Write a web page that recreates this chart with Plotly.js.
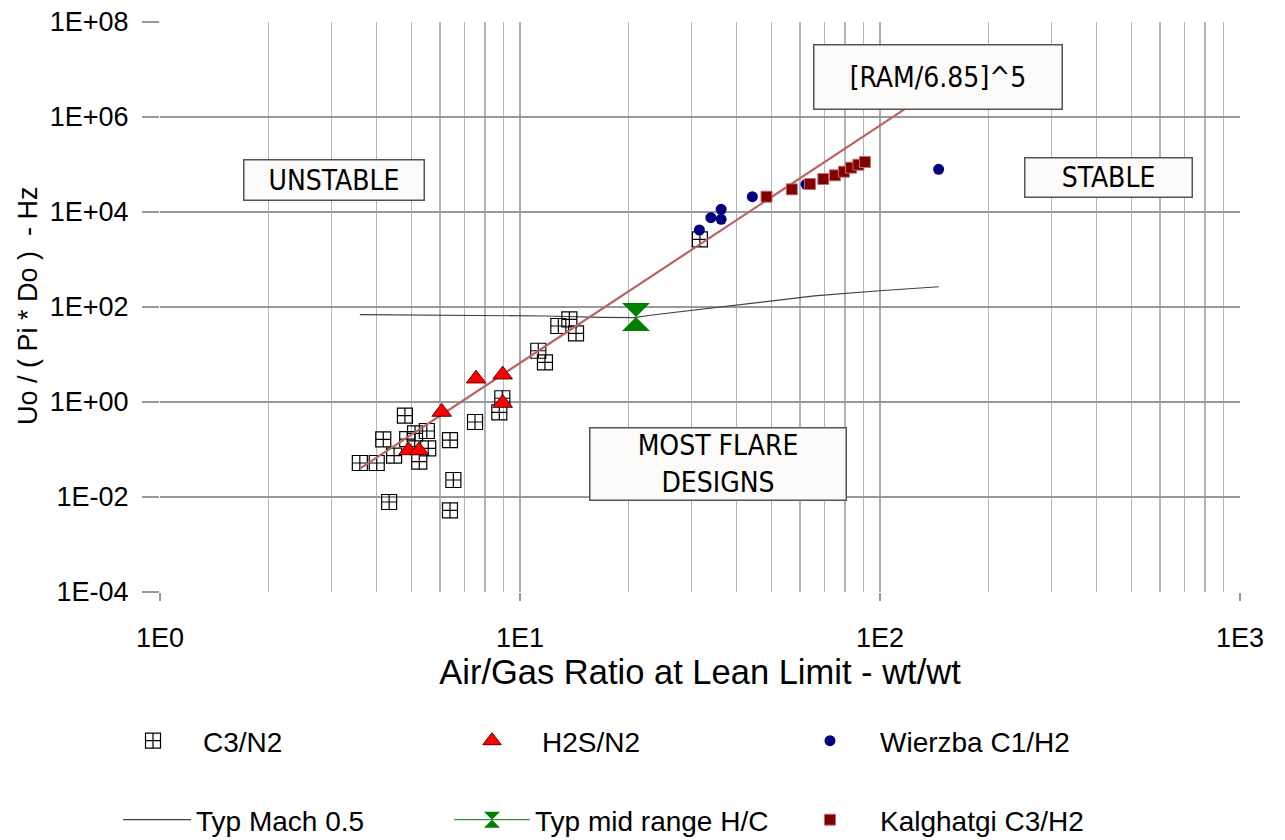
<!DOCTYPE html>
<html>
<head>
<meta charset="utf-8">
<script src="https://cdn.plot.ly/plotly-3.0.1.min.js"></script>
<style>html,body{margin:0;padding:0;background:#fff;}#chart{width:1285px;height:840px;}</style>
</head>
<body>
<div id="chart"></div>
<script>
// ---- data ----
const c3n2X = [3.59, 4.0, 4.17, 4.47, 4.79, 4.86, 5.11, 5.51, 5.56, 5.25, 6.39, 7.50, 6.53, 4.33, 6.39, 8.93, 8.76, 11.24, 11.73, 12.78, 13.71, 14.31, 31.6];
const c3n2Y = [0.052, 0.052, 0.164, 0.074, 0.515, 0.166, 0.219, 0.245, 0.106, 0.0554, 0.158, 0.379, 0.0228, 0.00785, 0.00525, 1.2, 0.607, 12.0, 6.85, 39.8, 55.1, 27.9, 2662];

const h2sX = [7.55, 8.95, 8.95, 6.06, 4.90, 5.24];
const h2sY = [3.10, 3.76, 0.95, 0.616, 0.0957, 0.0957];

const wierzbaX = [31.5, 33.9, 36.2, 36.2, 44.2, 62.3, 145.5];
const wierzbaY = [4180, 7590, 7020, 11400, 21000, 38300, 79300];

const kalghatgiX = [48.4, 56.9, 63.9, 69.6, 75.0, 79.4, 83.1, 87.1, 90.8];
const kalghatgiY = [21000, 30000, 38800, 49500, 59200, 70500, 85700, 99100, 113000];

const machX = [3.59, 6.92, 11.77, 16.78, 20.8, 23.3, 39.6, 65.7, 99.7, 145.6];
const machY = [68.9, 67.9, 64.7, 60.7, 59.6, 67.9, 110, 171, 220, 267];

const midRangeX = [21.0];
const midRangeY = [61.5];

const ramX = [3.6, 120];
const ramY = [0.04, 1.65e6];

const xTickVals = [1, 10, 100, 1000];
const xTickText = ['1E0', '1E1', '1E2', '1E3'];
const yTickVals = [1e-4, 1e-2, 1, 1e2, 1e4, 1e6, 1e8];
const yTickText = ['1E-04', '1E-02', '1E+00', '1E+02', '1E+04', '1E+06', '1E+08'];

const xTitle = 'Air/Gas Ratio at Lean Limit - wt/wt';
const yTitle = 'Uo / ( Pi * Do )&nbsp; - Hz';
const regionLabels = ['UNSTABLE', 'STABLE', 'MOST FLARE<br>DESIGNS', '[RAM/6.85]^5'];

// ---- traces ----
const traces = [
  {x: machX, y: machY, type: 'scatter', mode: 'lines', name: 'Typ Mach 0.5',
   line: {color: '#404040', width: 1.2}, legend: 'legend4'},
  {x: c3n2X, y: c3n2Y, type: 'scatter', mode: 'markers', name: 'C3/N2',
   marker: {symbol: 'square-cross-open', size: 15, color: '#000', line: {width: 1.2, color: '#000'}}, legend: 'legend'},
  {x: ramX, y: ramY, type: 'scatter', mode: 'lines', name: '[RAM/6.85]^5', showlegend: false,
   line: {color: '#b86464', width: 2.2}},
  {x: h2sX, y: h2sY, type: 'scatter', mode: 'markers', name: 'H2S/N2',
   marker: {symbol: 'triangle-up', size: 17, color: '#ff0000', line: {width: 1, color: '#600000'}}, legend: 'legend2'},
  {x: wierzbaX, y: wierzbaY, type: 'scatter', mode: 'markers', name: 'Wierzba C1/H2',
   marker: {symbol: 'circle', size: 11, color: '#000080', line: {width: 0}}, legend: 'legend3'},
  {x: kalghatgiX, y: kalghatgiY, type: 'scatter', mode: 'markers', name: 'Kalghatgi C3/H2',
   marker: {symbol: 'square', size: 11, color: '#800000', line: {width: 1, color: '#c07070'}}, legend: 'legend6'},
  {x: midRangeX, y: midRangeY, type: 'scatter', mode: 'lines+markers', name: 'Typ mid range H/C',
   line: {color: '#008000', width: 1}, marker: {symbol: 'hourglass', size: 28, color: '#008000', line: {width: 0}}, legend: 'legend5'}
];

function px2paperX(px) { return (px - 160) / 1080; }
function px2paperY(py) { return (592 - py) / 570; }

function box(text, cx, cy, w, h) {
  return {
    text: text, xref: 'paper', yref: 'paper', x: px2paperX(cx), y: px2paperY(cy),
    xanchor: 'center', yanchor: 'middle', showarrow: false,
    width: w - 3, height: h - 3, borderpad: 0, borderwidth: 1.5,
    bordercolor: '#555555', bgcolor: '#fdfbf9',
    font: {family: 'DejaVu Sans Condensed, DejaVu Sans, sans-serif', size: 28, color: '#000'}
  };
}

const legendFont = {family: 'Liberation Sans, Arial, sans-serif', size: 28, color: '#000'};
function leg(px, py, w) {
  return {xref: 'container', yref: 'container', x: px / 1285, y: 1 - py / 840,
          xanchor: 'left', yanchor: 'middle', bgcolor: 'rgba(0,0,0,0)', borderwidth: 0,
          font: legendFont, itemwidth: w};
}

const layout = {
  width: 1285, height: 840,
  margin: {l: 160, r: 45, t: 22, b: 248, autoexpand: false},
  paper_bgcolor: '#ffffff', plot_bgcolor: '#ffffff',
  font: {family: 'Liberation Sans, Arial, sans-serif', color: '#000', size: 26},
  xaxis: {
    type: 'log', range: [0, 3], tickmode: 'array', tickvals: xTickVals, ticktext: xTickText,
    ticks: 'outside', ticklen: 8, tickcolor: '#999', tickwidth: 1.3, tickangle: 0,
    showgrid: true, gridcolor: '#a8a8a8', gridwidth: 1.3,
    minor: {dtick: 'D1', showgrid: true, gridcolor: '#b4b4b4', gridwidth: 1.3, ticks: ''},
    zeroline: false, showline: false, automargin: false,
    tickfont: {size: 27}, ticklabelstandoff: 14,
    title: {text: xTitle, font: {size: 34.5}, standoff: 6}
  },
  yaxis: {
    type: 'log', range: [-4, 8], tickmode: 'array', tickvals: yTickVals, ticktext: yTickText,
    ticks: 'outside', ticklen: 17, tickcolor: '#999', tickwidth: 1.3,
    showgrid: true, gridcolor: '#999999', gridwidth: 1.3,
    zeroline: false, showline: false, automargin: false,
    tickfont: {size: 27}, ticklabelstandoff: 8
  },
  legend: leg(103, 741, 90),
  legend2: leg(442, 741, 90),
  legend3: leg(780, 741, 90),
  legend4: leg(118, 820, 68),
  legend5: leg(449, 820, 76),
  legend6: leg(780, 820, 90),
  annotations: [
    box(regionLabels[0], 334, 180, 182, 42),
    box(regionLabels[1], 1108, 178, 169, 41),
    box(regionLabels[2], 718, 464, 258, 74),
    box(regionLabels[3], 938, 77, 250, 66),
    {text: yTitle, xref: 'paper', yref: 'paper', x: px2paperX(28), y: px2paperY(306),
     xanchor: 'center', yanchor: 'middle', showarrow: false, textangle: -90,
     font: {family: 'Liberation Sans, Arial, sans-serif', size: 27, color: '#000'}}
  ]
};

Plotly.newPlot('chart', traces, layout, {displayModeBar: false, staticPlot: true});
</script>
</body>
</html>
